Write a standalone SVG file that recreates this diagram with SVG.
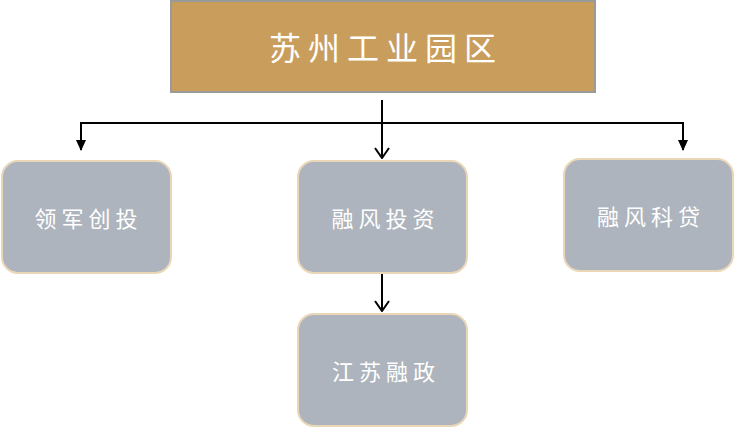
<svg xmlns="http://www.w3.org/2000/svg" width="734" height="428" viewBox="0 0 734 428">
<style>
.node rect{fill:#ADB4BD;stroke:#EAD7B7;stroke-width:2}
.node text{fill:#fff;font-family:"Noto Sans CJK SC","Noto Sans CJK JP",sans-serif;font-size:22px;letter-spacing:5px;text-anchor:middle;dominant-baseline:central}
#root rect{fill:#C99D5C;stroke:#9A9A9A;stroke-width:2}
#root text{fill:#fff;font-family:"Noto Sans CJK SC",sans-serif;font-size:32px;letter-spacing:7px;text-anchor:middle;dominant-baseline:central}
.conn{stroke:#000;stroke-width:2;fill:none}
</style>
<defs>
<marker id="open" viewBox="0 0 16 12" refX="8" refY="11" markerWidth="16" markerHeight="12" markerUnits="userSpaceOnUse" orient="0">
<path d="M1,1 L8,11 L15,1" fill="none" stroke="#000" stroke-width="2"/>
</marker>
</defs>
<g id="root" class="root">
<rect x="171" y="1" width="424" height="91"/>
<text x="386" y="46">苏州工业园区</text>
</g>
<g id="connectors">
<path class="conn" d="M382,100 V158" marker-end="url(#open)"/>
<path class="conn" d="M81,150 V123 H683 V150"/>
<path d="M76,140 L86,140 L81,151 Z" fill="#000"/>
<path d="M678,140 L688,140 L683,151 Z" fill="#000"/>
<path class="conn" d="M382,273 V311" marker-end="url(#open)"/>
</g>
<g id="n1" class="node">
<rect x="2" y="161" width="169" height="112" rx="16"/>
<text x="88.5" y="217">领军创投</text>
</g>
<g id="n2" class="node">
<rect x="298" y="161" width="169" height="112" rx="16"/>
<text x="385.5" y="217">融风投资</text>
</g>
<g id="n3" class="node">
<rect x="564" y="159" width="169" height="112" rx="16"/>
<text x="651" y="215">融风科贷</text>
</g>
<g id="n4" class="node">
<rect x="298" y="314" width="169" height="112" rx="16"/>
<text x="386" y="370">江苏融政</text>
</g>
</svg>
